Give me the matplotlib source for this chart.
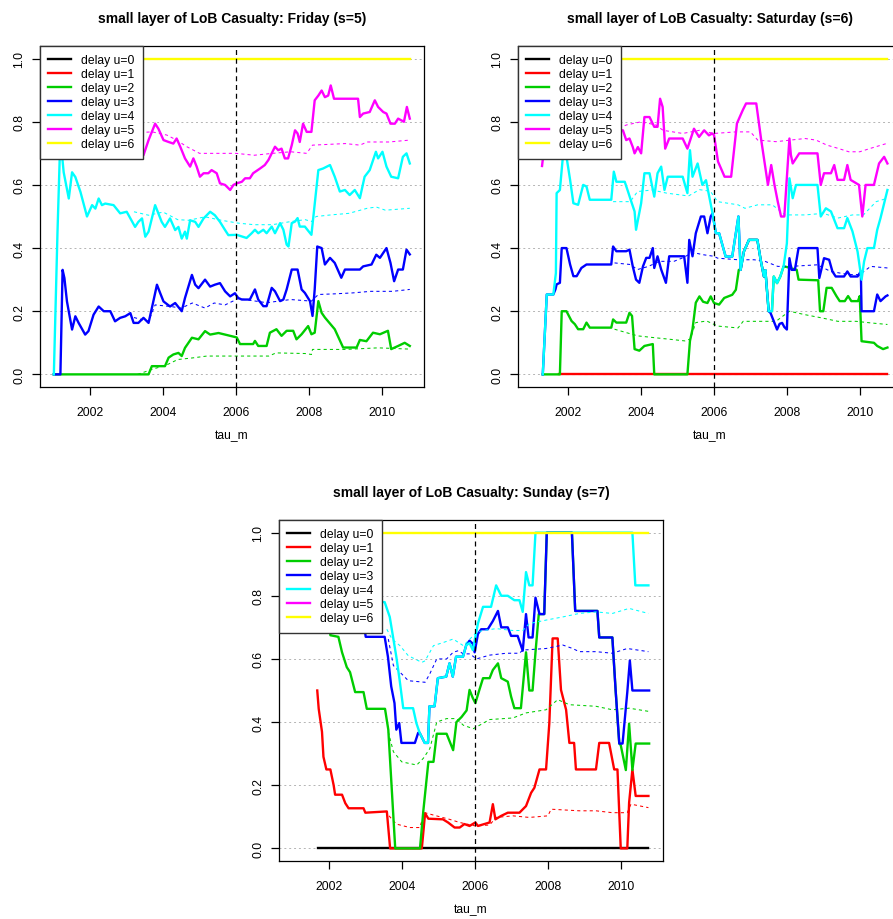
import matplotlib
matplotlib.use("Agg")
import matplotlib.pyplot as plt
from matplotlib.lines import Line2D

plt.rcParams['font.family'] = ['Liberation Sans', 'DejaVu Sans']

YEARS = [2002, 2004, 2006, 2008, 2010]
YTICKS = [0.0, 0.2, 0.4, 0.6, 0.8, 1.0]
DELAYS = [0, 1, 2, 3, 4, 5, 6]
LABELS = ['delay u=%d' % u for u in DELAYS]
COLORS = ['black', 'red', '#00cd00', 'blue', 'cyan', 'magenta', 'yellow']
TITLES = ['small layer of LoB Casualty: Friday (s=5)',
          'small layer of LoB Casualty: Saturday (s=6)',
          'small layer of LoB Casualty: Sunday (s=7)']

# ---- Friday (s=5): (tau_m, value) pairs ----
FRI_U2 = [(2001.0, 0), (2003.60, 0), (2003.69, .026), (2004.05, .026), (2004.15, .053), (2004.28, .063),
          (2004.42, .068), (2004.51, .058), (2004.60, .084), (2004.79, .116), (2004.97, .111), (2005.15, .137),
          (2005.29, .126), (2005.52, .131), (2005.70, .126), (2006.02, .117), (2006.11, .096), (2006.47, .096),
          (2006.52, .106), (2006.61, .090), (2006.84, .090), (2006.93, .132), (2007.11, .143), (2007.25, .122),
          (2007.39, .138), (2007.57, .138), (2007.66, .111), (2007.80, .127), (2007.98, .153), (2008.07, .127),
          (2008.16, .132), (2008.26, .232), (2008.35, .195), (2008.44, .18), (2008.71, .143), (2008.94, .085),
          (2009.31, .085), (2009.40, .109), (2009.58, .105), (2009.76, .132), (2009.95, .127), (2010.17, .138),
          (2010.26, .08), (2010.45, .09), (2010.63, .10), (2010.77, .09)]
FRI_U3 = [(2001.0, 0), (2001.18, 0), (2001.24, .331), (2001.29, .305), (2001.36, .231), (2001.50, .142),
          (2001.59, .184), (2001.68, .163), (2001.86, .126), (2001.95, .137), (2002.09, .189), (2002.23, .215),
          (2002.37, .20), (2002.55, .20), (2002.68, .168), (2002.82, .179), (2002.96, .184), (2003.10, .194),
          (2003.19, .163), (2003.32, .163), (2003.46, .179), (2003.60, .163), (2003.74, .236), (2003.83, .284),
          (2003.92, .257), (2004.01, .231), (2004.19, .215), (2004.33, .226), (2004.51, .20), (2004.60, .242),
          (2004.79, .315), (2004.88, .284), (2004.97, .273), (2005.15, .30), (2005.29, .278), (2005.42, .284),
          (2005.56, .289), (2005.70, .263), (2005.84, .247), (2005.97, .257), (2006.06, .242), (2006.16, .237),
          (2006.38, .237), (2006.52, .269), (2006.61, .237), (2006.75, .216), (2006.84, .216), (2006.98, .274),
          (2007.07, .263), (2007.21, .232), (2007.30, .237), (2007.39, .269), (2007.53, .332), (2007.69, .332),
          (2007.80, .269), (2007.89, .258), (2008.03, .232), (2008.10, .185), (2008.16, .269), (2008.23, .405),
          (2008.35, .40), (2008.44, .348), (2008.58, .369), (2008.71, .353), (2008.89, .306), (2008.99, .332),
          (2009.40, .332), (2009.49, .342), (2009.72, .348), (2009.85, .379), (2009.95, .369), (2010.13, .40),
          (2010.24, .353), (2010.34, .295), (2010.45, .332), (2010.58, .332), (2010.68, .395), (2010.77, .38)]
FRI_U4 = [(2001.0, 0), (2001.10, .45), (2001.17, .72), (2001.22, .70), (2001.27, .64), (2001.41, .557),
          (2001.50, .64), (2001.59, .625), (2001.73, .578), (2001.91, .50), (2002.05, .536), (2002.14, .525),
          (2002.23, .557), (2002.32, .536), (2002.41, .541), (2002.64, .536), (2002.82, .51), (2003.0, .515),
          (2003.23, .467), (2003.32, .483), (2003.42, .494), (2003.51, .436), (2003.60, .452), (2003.78, .536),
          (2003.96, .483), (2004.05, .467), (2004.19, .494), (2004.33, .457), (2004.42, .467), (2004.51, .43),
          (2004.60, .452), (2004.65, .43), (2004.74, .488), (2004.88, .483), (2004.97, .467), (2005.11, .494),
          (2005.29, .515), (2005.42, .504), (2005.56, .483), (2005.70, .457), (2005.79, .441), (2006.02, .442),
          (2006.29, .432), (2006.43, .447), (2006.52, .458), (2006.61, .447), (2006.75, .458), (2006.84, .447),
          (2006.98, .468), (2007.07, .447), (2007.21, .479), (2007.30, .458), (2007.39, .411), (2007.44, .405),
          (2007.53, .479), (2007.62, .484), (2007.69, .495), (2007.75, .468), (2007.89, .468), (2008.07, .442),
          (2008.26, .647), (2008.39, .652), (2008.58, .663), (2008.71, .626), (2008.85, .579), (2008.99, .584),
          (2009.12, .568), (2009.26, .584), (2009.40, .558), (2009.53, .626), (2009.67, .647), (2009.84, .705),
          (2009.90, .684), (2010.02, .705), (2010.13, .658), (2010.26, .626), (2010.45, .621), (2010.58, .689),
          (2010.68, .70), (2010.77, .668)]
FRI_U5 = [(2001.5, .76), (2002.5, .74), (2003.2, .72), (2003.37, .715), (2003.46, .694), (2003.60, .742),
          (2003.78, .794), (2003.87, .778), (2004.01, .742), (2004.15, .736), (2004.28, .731), (2004.37, .747),
          (2004.47, .721), (2004.60, .684), (2004.74, .658), (2004.83, .684), (2004.92, .658), (2005.01, .626),
          (2005.11, .637), (2005.24, .637), (2005.33, .647), (2005.47, .637), (2005.56, .605), (2005.70, .60),
          (2005.84, .584), (2005.93, .60), (2006.02, .605), (2006.16, .61), (2006.25, .621), (2006.38, .621),
          (2006.47, .637), (2006.66, .652), (2006.79, .663), (2006.89, .679), (2006.98, .70), (2007.07, .721),
          (2007.16, .71), (2007.25, .715), (2007.34, .684), (2007.43, .684), (2007.53, .726), (2007.62, .773),
          (2007.69, .763), (2007.75, .736), (2007.84, .794), (2007.94, .768), (2008.07, .768), (2008.16, .868),
          (2008.26, .883), (2008.35, .899), (2008.44, .878), (2008.53, .883), (2008.60, .915), (2008.69, .873),
          (2009.35, .873), (2009.40, .815), (2009.49, .826), (2009.67, .831), (2009.81, .868), (2009.90, .847),
          (2010.04, .831), (2010.13, .826), (2010.24, .794), (2010.36, .794), (2010.45, .81), (2010.61, .80),
          (2010.69, .847), (2010.77, .81)]
FRI_U6 = [(2001.0, 1.0), (2010.77, 1.0)]

FRI_U2_AVG = [(2003.3, 0), (2003.7, .016), (2004.1, .03), (2004.4, .047), (2004.8, .052), (2005.2, .058),
              (2006.9, .058), (2007.1, .068), (2007.9, .066), (2008.07, .063), (2008.1, .079), (2009.0, .079),
              (2009.9, .084), (2010.77, .08)]
FRI_U3_AVG = [(2003.2, .18), (2003.6, .168), (2003.78, .22), (2004.2, .215), (2004.5, .21), (2004.8, .226),
              (2005.15, .21), (2005.4, .226), (2005.7, .22), (2006.06, .24), (2006.84, .227), (2007.5, .237),
              (2008.07, .232), (2008.26, .253), (2008.7, .255), (2009.2, .258), (2009.7, .263), (2010.3, .263),
              (2010.77, .269)]
FRI_U4_AVG = [(2003.2, .515), (2003.6, .504), (2004.0, .514), (2004.4, .49), (2004.7, .488), (2005.15, .499),
              (2005.6, .488), (2006.06, .479), (2006.5, .474), (2007.0, .474), (2007.5, .484), (2007.9, .49),
              (2008.07, .484), (2008.2, .50), (2008.6, .505), (2009.1, .51), (2009.6, .526), (2009.85, .53),
              (2010.1, .52), (2010.77, .526)]
FRI_U5_AVG = [(2003.2, .765), (2003.7, .768), (2004.1, .758), (2004.37, .742), (2004.65, .721), (2005.0, .70),
              (2006.0, .70), (2006.5, .694), (2007.0, .70), (2007.5, .705), (2007.94, .70), (2008.1, .726),
              (2009.0, .731), (2009.4, .726), (2009.6, .736), (2010.2, .736), (2010.77, .742)]

# ---- Saturday (s=6) ----
SAT_U1 = [(2001.75, 0), (2010.76, 0)]
SAT_U2 = [(2001.30, 0), (2001.77, 0), (2001.82, .20), (2001.95, .20), (2002.09, .169), (2002.18, .159),
          (2002.27, .143), (2002.41, .143), (2002.50, .164), (2002.59, .148), (2003.18, .148), (2003.23, .174),
          (2003.32, .164), (2003.59, .164), (2003.68, .195), (2003.75, .185), (2003.82, .08), (2003.95, .075),
          (2004.09, .09), (2004.32, .096), (2004.36, 0), (2005.27, 0), (2005.34, .106), (2005.41, .143),
          (2005.50, .227), (2005.60, .247), (2005.70, .23), (2005.82, .226), (2005.91, .247), (2006.0, .226),
          (2006.14, .221), (2006.28, .242), (2006.50, .252), (2006.60, .268), (2006.68, .331), (2006.73, .331),
          (2006.82, .389), (2006.96, .426), (2007.19, .426), (2007.28, .363), (2007.37, .31), (2007.41, .33),
          (2007.50, .20), (2007.59, .20), (2007.64, .31), (2007.73, .289), (2007.82, .31), (2007.91, .342),
          (2008.0, .34), (2008.27, .331), (2008.32, .30), (2008.86, .298), (2008.91, .20), (2009.0, .20),
          (2009.09, .274), (2009.23, .274), (2009.36, .248), (2009.45, .232), (2009.59, .232), (2009.68, .248),
          (2009.77, .232), (2009.95, .232), (2010.0, .248), (2010.05, .105), (2010.39, .10), (2010.48, .09),
          (2010.64, .08), (2010.76, .085)]
SAT_U3 = [(2001.30, 0), (2001.41, .253), (2001.59, .253), (2001.65, .27), (2001.68, .285), (2001.77, .29),
          (2001.82, .40), (2001.95, .40), (2002.05, .348), (2002.14, .311), (2002.23, .311), (2002.36, .337),
          (2002.50, .348), (2003.18, .348), (2003.23, .405), (2003.32, .39), (2003.59, .39), (2003.68, .395),
          (2003.77, .342), (2003.86, .30), (2003.95, .29), (2004.05, .342), (2004.14, .369), (2004.23, .369),
          (2004.32, .40), (2004.36, .337), (2004.45, .374), (2004.55, .332), (2004.68, .29), (2004.77, .374),
          (2005.18, .374), (2005.27, .29), (2005.32, .426), (2005.41, .374), (2005.50, .447), (2005.64, .50),
          (2005.73, .50), (2005.82, .447), (2005.91, .50), (2005.96, .51), (2006.05, .447), (2006.14, .447),
          (2006.32, .373), (2006.50, .373), (2006.67, .50), (2006.73, .331), (2006.82, .389), (2006.96, .426),
          (2007.19, .426), (2007.28, .363), (2007.37, .31), (2007.41, .33), (2007.50, .20), (2007.55, .195),
          (2007.73, .142), (2007.80, .16), (2007.87, .163), (2007.93, .15), (2008.0, .142), (2008.07, .368),
          (2008.13, .331), (2008.22, .331), (2008.32, .40), (2008.84, .40), (2008.89, .305), (2009.02, .368),
          (2009.16, .363), (2009.25, .326), (2009.34, .31), (2009.57, .31), (2009.66, .326), (2009.75, .31),
          (2009.94, .31), (2010.03, .326), (2010.05, .20), (2010.39, .20), (2010.48, .253), (2010.57, .232),
          (2010.71, .247), (2010.76, .25)]
SAT_U4 = [(2001.30, 0), (2001.41, .253), (2001.59, .253), (2001.66, .321), (2001.68, .574), (2001.77, .584),
          (2001.86, .70), (2001.95, .69), (2002.05, .616), (2002.14, .542), (2002.27, .537), (2002.41, .60),
          (2002.50, .595), (2002.59, .553), (2003.18, .553), (2003.25, .642), (2003.32, .61), (2003.55, .61),
          (2003.64, .579), (2003.73, .547), (2003.82, .516), (2003.86, .458), (2004.0, .542), (2004.09, .637),
          (2004.23, .637), (2004.36, .563), (2004.45, .637), (2004.55, .658), (2004.64, .584), (2004.73, .626),
          (2005.14, .626), (2005.27, .574), (2005.34, .71), (2005.41, .626), (2005.55, .668), (2005.68, .60),
          (2005.78, .615), (2005.96, .51), (2006.05, .447), (2006.14, .447), (2006.32, .373), (2006.50, .373),
          (2006.67, .50), (2006.73, .331), (2006.82, .389), (2006.96, .426), (2007.19, .426), (2007.28, .363),
          (2007.37, .31), (2007.41, .33), (2007.50, .20), (2007.59, .20), (2007.64, .31), (2007.73, .289),
          (2007.82, .31), (2007.91, .342), (2008.0, .415), (2008.07, .621), (2008.16, .558), (2008.25, .60),
          (2008.84, .60), (2008.93, .50), (2009.07, .526), (2009.21, .516), (2009.39, .463), (2009.57, .463),
          (2009.66, .495), (2009.80, .453), (2009.94, .389), (2010.05, .30), (2010.12, .358), (2010.21, .40),
          (2010.39, .40), (2010.48, .458), (2010.57, .495), (2010.76, .584)]
SAT_U5 = [(2001.28, .66), (2001.32, .70), (2002.0, .78), (2003.36, .773), (2003.50, .773), (2003.59, .742),
          (2003.68, .747), (2003.77, .72), (2003.82, .70), (2003.91, .72), (2004.0, .70), (2004.09, .815),
          (2004.23, .815), (2004.36, .784), (2004.45, .784), (2004.52, .873), (2004.59, .847), (2004.66, .715),
          (2004.77, .747), (2005.14, .747), (2005.27, .715), (2005.45, .778), (2005.59, .752), (2005.73, .773),
          (2005.86, .757), (2005.95, .763), (2006.0, .758), (2006.11, .674), (2006.29, .626), (2006.47, .626),
          (2006.63, .795), (2006.79, .837), (2006.88, .858), (2007.16, .858), (2007.29, .747), (2007.48, .60),
          (2007.57, .663), (2007.66, .60), (2007.75, .547), (2007.84, .50), (2007.93, .50), (2008.07, .747),
          (2008.11, .695), (2008.16, .668), (2008.34, .70), (2008.84, .70), (2008.93, .60), (2009.02, .637),
          (2009.21, .637), (2009.30, .663), (2009.39, .616), (2009.57, .616), (2009.66, .663), (2009.75, .616),
          (2009.98, .60), (2010.07, .50), (2010.16, .60), (2010.39, .60), (2010.53, .668), (2010.67, .689),
          (2010.76, .668)]
SAT_U6 = [(2001.30, 1.0), (2010.76, 1.0)]

SAT_U2_AVG = [(2003.27, .143), (2003.6, .132), (2003.9, .122), (2004.3, .117), (2004.8, .111), (2005.2, .106),
              (2005.35, .112), (2005.5, .164), (2005.8, .169), (2006.1, .153), (2006.66, .147), (2006.8, .168),
              (2007.7, .168), (2008.07, .20), (2008.5, .189), (2008.95, .179), (2009.4, .168), (2009.9, .168),
              (2010.3, .163), (2010.76, .158)]
SAT_U3_AVG = [(2003.27, .353), (2003.7, .348), (2003.9, .332), (2004.2, .342), (2004.5, .358), (2004.9, .358),
              (2005.14, .369), (2005.3, .379), (2005.5, .384), (2005.7, .379), (2006.0, .374), (2006.1, .368),
              (2006.66, .363), (2007.1, .363), (2007.4, .358), (2007.75, .342), (2008.1, .342), (2008.84, .347),
              (2009.2, .326), (2009.7, .316), (2010.0, .316), (2010.3, .342), (2010.76, .337)]
SAT_U4_AVG = [(2003.23, .547), (2003.7, .547), (2003.9, .579), (2004.3, .584), (2004.7, .574), (2005.3, .565),
              (2005.6, .585), (2005.9, .58), (2006.1, .547), (2006.66, .537), (2006.85, .526), (2007.2, .537),
              (2007.6, .537), (2007.95, .505), (2008.5, .505), (2009.0, .51), (2009.4, .495), (2009.8, .505),
              (2010.1, .505), (2010.45, .547), (2010.76, .558)]
SAT_U5_AVG = [(2003.23, .773), (2003.6, .79), (2004.0, .80), (2004.4, .79), (2004.6, .773), (2005.14, .763),
              (2005.6, .773), (2006.0, .763), (2006.6, .768), (2007.0, .768), (2007.2, .742), (2007.7, .737),
              (2008.1, .742), (2008.5, .747), (2008.8, .742), (2009.1, .726), (2009.4, .716), (2009.7, .705),
              (2010.0, .705), (2010.3, .716), (2010.76, .732)]

# ---- Sunday (s=7) ----
SUN_U0 = [(2001.70, 0), (2010.76, 0)]
SUN_U1 = [(2001.67, .50), (2001.71, .442), (2001.80, .369), (2001.84, .29), (2001.92, .25), (2002.03, .25),
          (2002.12, .20), (2002.16, .17), (2002.35, .17), (2002.44, .143), (2002.53, .127), (2002.94, .127),
          (2002.99, .113), (2003.58, .117), (2003.67, 0), (2004.54, 0), (2004.63, .111), (2004.72, .094),
          (2005.12, .092), (2005.26, .082), (2005.44, .066), (2005.58, .066), (2005.71, .077), (2005.85, .071),
          (2006.01, .082), (2006.08, .071), (2006.40, .082), (2006.49, .14), (2006.56, .092), (2006.72, .103),
          (2006.90, .113), (2007.22, .113), (2007.40, .134), (2007.54, .176), (2007.63, .192), (2007.77, .25),
          (2007.95, .25), (2008.04, .397), (2008.13, .665), (2008.27, .665), (2008.36, .502), (2008.50, .439),
          (2008.59, .334), (2008.72, .334), (2008.77, .25), (2009.32, .25), (2009.41, .334), (2009.68, .334),
          (2009.82, .25), (2009.91, .25), (2010.0, 0), (2010.18, 0), (2010.23, .145), (2010.32, .25),
          (2010.41, .166), (2010.76, .166)]
SUN_U2 = [(2001.70, .74), (2001.98, .74), (2002.03, .675), (2002.25, .67), (2002.35, .621), (2002.48, .574),
          (2002.57, .558), (2002.71, .495), (2002.94, .495), (2003.03, .442), (2003.53, .442), (2003.62, .376),
          (2003.81, 0), (2004.49, 0), (2004.58, .117), (2004.72, .274), (2004.86, .274), (2004.95, .363),
          (2005.22, .363), (2005.31, .337), (2005.40, .311), (2005.49, .40), (2005.63, .416), (2005.77, .437),
          (2005.85, .502), (2005.94, .476), (2006.01, .46), (2006.12, .502), (2006.22, .539), (2006.40, .539),
          (2006.49, .565), (2006.63, .586), (2006.72, .539), (2006.90, .528), (2006.99, .481), (2007.08, .444),
          (2007.26, .444), (2007.40, .621), (2007.49, .50), (2007.58, .50), (2007.66, .621), (2007.75, .742),
          (2007.90, .742), (2007.97, 1.0), (2008.66, 1.0), (2008.75, .752), (2009.36, .752), (2009.41, .668),
          (2009.77, .668), (2009.86, .50), (2009.96, .332), (2010.0, .327), (2010.14, .248), (2010.23, .395),
          (2010.32, .248), (2010.41, .332), (2010.78, .332)]
SUN_U3 = [(2001.70, .75), (2002.90, .75), (2003.0, .67), (2003.52, .67), (2003.61, .607), (2003.70, .513),
          (2003.79, .46), (2003.84, .376), (2003.92, .397), (2003.98, .334), (2004.35, .334), (2004.44, .366),
          (2004.48, .366), (2004.62, .334), (2004.71, .334), (2004.75, .45), (2004.89, .45), (2004.98, .539),
          (2005.21, .544), (2005.30, .586), (2005.39, .544), (2005.48, .607), (2005.67, .607), (2005.76, .644),
          (2005.85, .658), (2005.94, .648), (2005.99, .621), (2006.08, .679), (2006.17, .694), (2006.35, .694),
          (2006.49, .72), (2006.63, .752), (2006.72, .70), (2006.90, .70), (2006.99, .673), (2007.17, .673),
          (2007.31, .626), (2007.40, .742), (2007.47, .668), (2007.58, .668), (2007.66, .794), (2007.77, .742),
          (2007.90, .742), (2007.97, 1.0), (2008.66, 1.0), (2008.75, .752), (2009.36, .752), (2009.41, .668),
          (2009.77, .668), (2009.86, .50), (2009.96, .332), (2010.05, .332), (2010.18, .495), (2010.25, .595),
          (2010.32, .50), (2010.78, .50)]
SUN_U4 = [(2001.70, .78), (2003.52, .78), (2003.66, .733), (2003.75, .67), (2003.84, .607), (2003.93, .534),
          (2004.03, .444), (2004.30, .444), (2004.39, .397), (2004.48, .366), (2004.62, .334), (2004.71, .334),
          (2004.75, .45), (2004.89, .45), (2004.98, .539), (2005.21, .544), (2005.30, .586), (2005.39, .544),
          (2005.48, .607), (2005.67, .607), (2005.76, .644), (2005.85, .65), (2005.94, .628), (2006.08, .712),
          (2006.22, .765), (2006.44, .765), (2006.58, .833), (2006.72, .80), (2006.90, .80), (2007.08, .786),
          (2007.22, .786), (2007.31, .749), (2007.40, .875), (2007.49, .833), (2007.58, .833), (2007.66, 1.0),
          (2010.32, 1.0), (2010.40, .833), (2010.76, .833)]
SUN_U6 = [(2001.70, 1.0), (2010.76, 1.0)]

SUN_U1_AVG = [(2003.64, .103), (2003.84, .077), (2004.21, .066), (2004.48, .066), (2004.62, .113),
              (2004.94, .103), (2005.30, .092), (2005.58, .082), (2006.01, .071), (2006.40, .074),
              (2006.58, .098), (2007.04, .103), (2007.49, .098), (2008.0, .103), (2008.09, .124),
              (2008.86, .119), (2009.32, .119), (2009.77, .113), (2010.18, .113), (2010.28, .14), (2010.76, .129)]
SUN_U2_AVG = [(2003.62, .369), (2003.76, .306), (2003.99, .274), (2004.40, .264), (2004.58, .285),
              (2004.76, .316), (2004.95, .40), (2005.22, .411), (2005.49, .411), (2005.68, .39), (2005.95, .379),
              (2006.08, .387), (2006.40, .408), (2007.04, .413), (2007.40, .429), (2007.95, .439),
              (2008.27, .471), (2008.59, .455), (2009.32, .45), (2009.77, .439), (2010.23, .444), (2010.76, .434)]
SUN_U3_AVG = [(2003.62, .663), (2003.76, .579), (2003.94, .558), (2004.17, .531), (2004.63, .526),
              (2004.76, .553), (2004.95, .60), (2005.22, .60), (2005.40, .621), (2005.54, .626), (2005.68, .616),
              (2005.86, .616), (2006.04, .60), (2006.40, .612), (2006.86, .618), (2007.22, .618), (2007.31, .628),
              (2007.95, .633), (2008.41, .644), (2008.68, .633), (2008.86, .623), (2009.32, .623), (2009.77, .618),
              (2010.18, .633), (2010.76, .623)]
SUN_U4_AVG = [(2003.58, .694), (2003.72, .663), (2003.94, .642), (2004.17, .61), (2004.54, .589),
              (2004.63, .594), (2004.86, .642), (2005.13, .652), (2005.40, .663), (2005.68, .642),
              (2006.04, .684), (2006.22, .69), (2006.58, .696), (2007.04, .69), (2007.31, .69), (2007.49, .712),
              (2007.95, .723), (2008.41, .733), (2008.86, .744), (2009.32, .749), (2009.77, .744), (2010.23, .76),
              (2010.76, .744)]


def split(pairs):
    return [p[0] for p in pairs], [p[1] for p in pairs]


def draw_panel(ax, title, solid, avg):
    for y in YTICKS:
        ax.axhline(y, color='#b4b4b4', lw=0.7, ls=(0, (2, 3)), zorder=1)
    for u in DELAYS:
        if u in solid:
            t, v = split(solid[u])
            ax.plot(t, v, color=COLORS[u], lw=1.7, zorder=2)
        if u in avg:
            t, v = split(avg[u])
            ax.plot(t, v, color=COLORS[u], lw=0.75, ls=(0, (3, 3)), zorder=2)
    ax.axvline(2006, color='black', lw=0.9, ls=(0, (4, 3)), zorder=3)

    ax.set_xlim(2000.62, 2011.16)
    ax.set_ylim(-0.04, 1.04)
    ax.set_xticks(YEARS)
    ax.set_xticklabels([str(y) for y in YEARS])
    ax.set_yticks(YTICKS)
    ax.set_yticklabels(['%.1f' % y for y in YTICKS], rotation=90, va='center')
    ax.tick_params(direction='out', length=6, width=0.9, labelsize=8.7)
    ax.tick_params(axis='x', pad=8)
    ax.tick_params(axis='y', pad=4.5)
    for s in ax.spines.values():
        s.set_linewidth(0.9)
    ax.set_title(title, fontsize=10, fontweight='bold', pad=17)
    ax.set_xlabel('tau_m', fontsize=8.7, labelpad=8)

    handles = [Line2D([], [], color=c, lw=1.7) for c in COLORS]
    leg = ax.legend(handles, LABELS, loc='upper left', bbox_to_anchor=(0, 1), borderaxespad=0,
                    fontsize=8.7, handlelength=1.9, handletextpad=0.8, labelspacing=0.16,
                    borderpad=0.7, fancybox=False, framealpha=1, edgecolor='#333333')
    leg.get_frame().set_linewidth(1.0)


fig = plt.figure(figsize=(8.93, 9.2), dpi=100)
ax1 = fig.add_axes([40 / 893, 1 - 388 / 920, 384 / 893, 341 / 920])
ax2 = fig.add_axes([518 / 893, 1 - 388 / 920, 384 / 893, 341 / 920])
ax3 = fig.add_axes([279 / 893, 1 - 862 / 920, 384 / 893, 341 / 920])

draw_panel(ax1, TITLES[0],
           {2: FRI_U2, 3: FRI_U3, 4: FRI_U4, 5: FRI_U5, 6: FRI_U6},
           {2: FRI_U2_AVG, 3: FRI_U3_AVG, 4: FRI_U4_AVG, 5: FRI_U5_AVG, 6: FRI_U6})
draw_panel(ax2, TITLES[1],
           {1: SAT_U1, 2: SAT_U2, 3: SAT_U3, 4: SAT_U4, 5: SAT_U5, 6: SAT_U6},
           {1: SAT_U1, 2: SAT_U2_AVG, 3: SAT_U3_AVG, 4: SAT_U4_AVG, 5: SAT_U5_AVG, 6: SAT_U6})
draw_panel(ax3, TITLES[2],
           {0: SUN_U0, 1: SUN_U1, 2: SUN_U2, 3: SUN_U3, 4: SUN_U4, 6: SUN_U6},
           {0: SUN_U0, 1: SUN_U1_AVG, 2: SUN_U2_AVG, 3: SUN_U3_AVG, 4: SUN_U4_AVG, 6: SUN_U6})

fig.savefig('out.png', dpi=100, facecolor='white')
